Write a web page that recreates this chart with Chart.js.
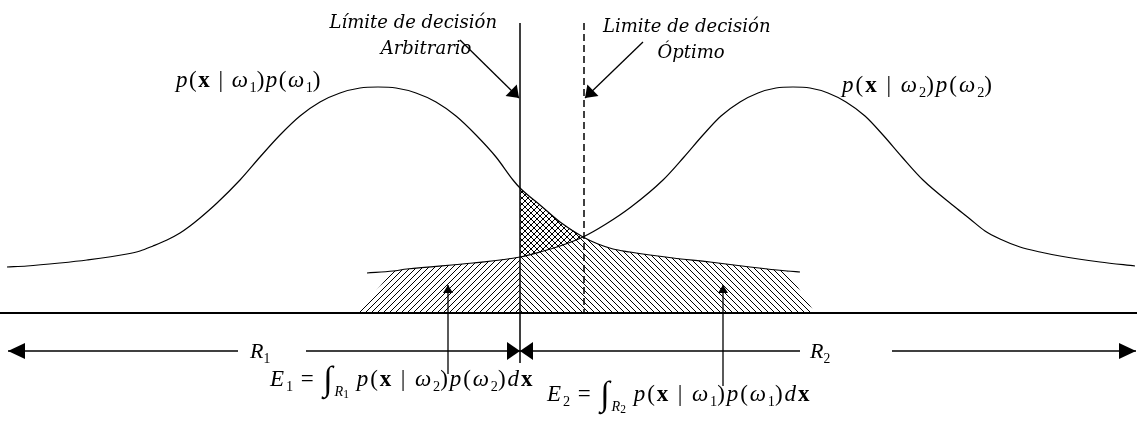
<!DOCTYPE html>
<html>
<head>
<meta charset="utf-8">
<script src="https://cdn.jsdelivr.net/npm/chart.js@4.4.0/dist/chart.umd.min.js"></script>
<style>
  html, body { margin: 0; padding: 0; background: #fff; }
  canvas { display: block; }
</style>
</head>
<body>
<canvas id="chart" width="1137" height="421"></canvas>
<script>
// p(x|w1)p(w1) (height above the axis)
const leftX = [7, 27, 60, 87, 127, 140, 153, 167, 180, 190, 200, 217, 240, 260, 280, 300, 320, 340, 360, 378, 396, 416, 436, 456, 476, 496, 513, 520, 540, 560, 583, 598, 613, 630, 650, 673, 710, 750, 787, 800];
const leftY = [46, 47, 50, 53, 59, 62, 67, 73, 80, 87, 95, 110, 133, 156, 178, 197, 211, 220, 225, 226, 225, 220, 211, 197, 178, 156, 133, 125, 108, 91, 76, 69, 64, 61, 58, 55, 51, 46, 42, 41];

// p(x|w2)p(w2)
const rightX = [367, 393, 407, 473, 520, 540, 560, 583, 606, 631, 663, 684, 703, 721, 740, 758, 776, 793, 810, 828, 846, 865, 883, 902, 923, 955, 970, 985, 1000, 1020, 1040, 1060, 1100, 1135];
const rightY = [40, 42, 44, 50, 56, 61, 67, 76, 89, 106, 133, 156, 178, 197, 211, 220, 225, 226, 225, 220, 211, 197, 178, 156, 133, 106, 94, 82, 74, 66, 61, 57, 51, 47];

// decision boundaries and the feet of the shaded error regions
const arbitraryBoundary = 520;
const optimalBoundary = 584;
const e1Edge = [357, 393];
const e2Edge = [787, 815];

const boundaryLabels = ['Límite de decisión', 'Arbitrario', 'Limite de decisión', 'Óptimo'];
const curveLabels = ['p(x | ω_1)p(ω_1)', 'p(x | ω_2)p(ω_2)'];
const regionLabels = ['R_1', 'R_2'];
const errorLabels = ['E_1 = ∫_{R_1} p(x | ω_2)p(ω_2)dx', 'E_2 = ∫_{R_2} p(x | ω_1)p(ω_1)dx'];

const toPts = (xs, ys) => xs.map((x, i) => ({ x: x, y: ys[i] }));
const leftPts = toPts(leftX, leftY);
const rightPts = toPts(rightX, rightY);

const e1Top = [{ x: e1Edge[0], y: 0 }].concat(rightPts.filter(p => p.x >= e1Edge[1] && p.x <= arbitraryBoundary));
const e2Top = leftPts.filter(p => p.x >= arbitraryBoundary && p.x <= e2Edge[0]).concat([{ x: e2Edge[1], y: 0 }]);
const crossLow = rightPts.filter(p => p.x >= arbitraryBoundary && p.x <= optimalBoundary);
const crossHigh = leftPts.filter(p => p.x >= arbitraryBoundary && p.x <= optimalBoundary);

const canvas = document.getElementById('chart');
const ctx = canvas.getContext('2d');

function hatch(dir, size) {
  const c = document.createElement('canvas');
  c.width = c.height = size;
  const g = c.getContext('2d');
  g.strokeStyle = '#000';
  g.lineWidth = 1;
  g.beginPath();
  if (dir > 0) {
    g.moveTo(0, size); g.lineTo(size, 0);
    g.moveTo(-1, 1); g.lineTo(1, -1);
    g.moveTo(size - 1, size + 1); g.lineTo(size + 1, size - 1);
  } else {
    g.moveTo(0, 0); g.lineTo(size, size);
    g.moveTo(size - 1, -1); g.lineTo(size + 1, 1);
    g.moveTo(-1, size - 1); g.lineTo(1, size + 1);
  }
  g.stroke();
  return ctx.createPattern(c, 'repeat');
}

function line(points, extra) {
  return Object.assign({
    data: points,
    borderColor: '#000',
    borderWidth: 1.3,
    pointRadius: 0,
    fill: false,
    tension: 0
  }, extra || {});
}

function area(points, pattern, fill) {
  return {
    data: points,
    borderWidth: 0,
    borderColor: 'rgba(0,0,0,0)',
    backgroundColor: pattern,
    pointRadius: 0,
    tension: 0,
    fill: fill
  };
}

const rowY = -38;

// arrow heads drawn at the last point of any dataset carrying `head`
const arrowHeads = {
  id: 'arrowHeads',
  afterDatasetsDraw(chart) {
    const c = chart.ctx;
    chart.data.datasets.forEach((ds, i) => {
      if (!ds.head) return;
      const pts = chart.getDatasetMeta(i).data;
      const a = pts[pts.length - 2], b = pts[pts.length - 1];
      const ang = Math.atan2(b.y - a.y, b.x - a.x);
      c.save();
      c.translate(b.x, b.y);
      c.rotate(ang);
      c.beginPath();
      c.moveTo(0, 0);
      c.lineTo(-ds.head[0], -ds.head[1]);
      c.lineTo(-ds.head[0], ds.head[1]);
      c.closePath();
      c.fillStyle = '#000';
      c.fill();
      c.restore();
    });
  }
};

// tiny math-text renderer: "_x" or "_{..}" is a subscript, ∫ is drawn large
function tokens(str, level, out) {
  for (let i = 0; i < str.length; i++) {
    const ch = str[i];
    if (ch === '_') {
      if (str[i + 1] === '{') {
        const end = str.indexOf('}', i);
        tokens(str.slice(i + 2, end), level + 1, out);
        i = end;
      } else {
        out.push({ ch: str[i + 1], level: level + 1 });
        i++;
      }
    } else {
      out.push({ ch: ch, level: level });
    }
  }
  return out;
}

function drawMath(c, str, x, y, size, gap) {
  const toks = tokens(str, 0, []);
  let cx = x, afterInt = false;
  toks.forEach(t => {
    let f = size * [1, 0.62, 0.5][t.level];
    let dy = size * [0, 0.22, 0.3][t.level];
    let style = '';
    if (/[pdERω]/.test(t.ch)) style = 'italic ';
    if (t.ch === 'x') style = 'bold ';
    if (t.ch === '∫') { f = size * 1.5; dy = size * 0.18; afterInt = true; }
    else if (t.level === 0 && t.ch !== ' ') afterInt = false;
    if (afterInt && t.level > 0) dy += size * 0.2;
    c.font = style + f.toFixed(1) + 'px "Liberation Serif"';
    c.fillText(t.ch, cx, y + dy);
    cx += c.measureText(t.ch).width + (t.level === 0 ? gap : 0);
  });
}

const textLayer = {
  id: 'textLayer',
  afterDraw(chart) {
    const c = chart.ctx, sx = chart.scales.x, sy = chart.scales.y;
    const px = v => sx.getPixelForValue(v), py = v => sy.getPixelForValue(v);
    c.save();
    c.fillStyle = '#000';
    c.textBaseline = 'alphabetic';
    c.font = 'italic 18px "DejaVu Serif"';
    c.textAlign = 'right';
    c.fillText(boundaryLabels[0], px(497), py(285));
    c.textAlign = 'center';
    c.fillText(boundaryLabels[1], px(426), py(259));
    c.textAlign = 'left';
    c.fillText(boundaryLabels[2], px(603), py(281));
    c.textAlign = 'center';
    c.fillText(boundaryLabels[3], px(691), py(255));
    c.textAlign = 'left';
    drawMath(c, curveLabels[0], px(176), py(226), 23, 1.5);
    drawMath(c, curveLabels[1], px(842), py(221), 23, 2);
    drawMath(c, regionLabels[0], px(250), py(-45), 22, 0);
    drawMath(c, regionLabels[1], px(810), py(-45), 22, 0);
    drawMath(c, errorLabels[0], px(270), py(-73), 23, 1.9);
    drawMath(c, errorLabels[1], px(547), py(-88), 23, 1.9);
    c.restore();
  }
};

const datasets = [
  line(leftPts, { cubicInterpolationMode: 'monotone', borderWidth: 1.2 }),
  line(rightPts, { cubicInterpolationMode: 'monotone', borderWidth: 1.2 }),
  line([{ x: 0, y: 0 }, { x: 1137, y: 0 }], { borderWidth: 1.8 }),
  line([{ x: arbitraryBoundary, y: 290 }, { x: arbitraryBoundary, y: -50 }], { borderWidth: 1.5 }),
  line([{ x: optimalBoundary, y: 290 }, { x: optimalBoundary, y: 0 }], { borderWidth: 1.5, borderDash: [7, 4] }),
  line([{ x: 238, y: rowY }, { x: 8, y: rowY }], { borderWidth: 1.6, head: [17, 8] }),
  line([{ x: 306, y: rowY }, { x: arbitraryBoundary, y: rowY }], { borderWidth: 1.6, head: [13, 9] }),
  line([{ x: 800, y: rowY }, { x: arbitraryBoundary, y: rowY }], { borderWidth: 1.6, head: [13, 9] }),
  line([{ x: 892, y: rowY }, { x: 1136, y: rowY }], { borderWidth: 1.6, head: [17, 8] }),
  line([{ x: 460, y: 273 }, { x: arbitraryBoundary - 1, y: 215 }], { head: [11, 8] }),
  line([{ x: 643, y: 271 }, { x: optimalBoundary + 1, y: 215 }], { head: [11, 8] }),
  line([{ x: 448, y: -61 }, { x: 448, y: 28 }], { head: [8, 5] }),
  line([{ x: 723, y: -73 }, { x: 723, y: 28 }], { head: [8, 5] }),
  area(e1Top, hatch(1, 6), 'origin'),
  area(e2Top, hatch(-1, 6), 'origin'),
  area(crossLow, 'rgba(0,0,0,0)', false),
  area(crossHigh, hatch(1, 6), '-1')
];

new Chart(ctx, {
  type: 'line',
  data: { datasets: datasets },
  options: {
    responsive: false,
    animation: false,
    devicePixelRatio: 1,
    events: [],
    layout: { padding: 0 },
    scales: {
      x: { type: 'linear', min: 0, max: 1137, display: false },
      y: { type: 'linear', min: -108, max: 313, display: false }
    },
    plugins: {
      legend: { display: false },
      tooltip: { enabled: false }
    }
  },
  plugins: [arrowHeads, textLayer]
});
</script>
</body>
</html>
